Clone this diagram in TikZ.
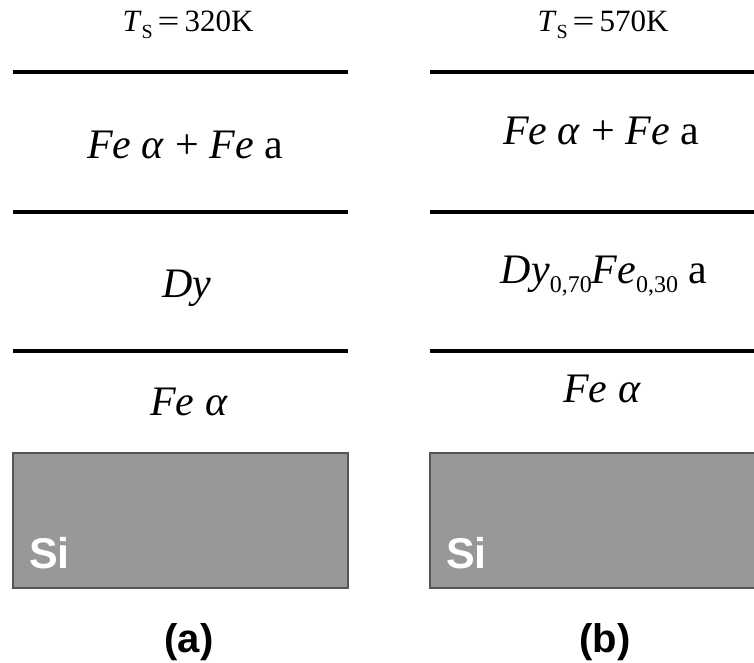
\documentclass[tikz,border=0pt]{standalone}
\usepackage{fontspec}
\setmainfont{Liberation Serif}
\newfontfamily\labelfont{Liberation Sans}
\usetikzlibrary{positioning}
\definecolor{sigray}{RGB}{152,152,152}
\definecolor{siedge}{RGB}{85,85,85}
\tikzset{
  layerline/.style={line width=4pt, black},
  sibox/.style={fill=sigray, draw=siedge, line width=1.3pt},
  phase/.style={inner sep=0pt, anchor=base, font=\fontsize{42}{48}\selectfont},
  temp/.style={inner sep=0pt, anchor=base, font=\fontsize{31}{36}\selectfont},
  silabel/.style={inner sep=0pt, anchor=base west, text=white, font=\labelfont\bfseries\fontsize{43}{48}\selectfont},
  panel/.style={inner sep=0pt, anchor=base, font=\labelfont\bfseries\fontsize{40}{46}\selectfont},
}
\newcommand{\Tsub}{\textit{T}\raisebox{-7pt}{\fontsize{20}{20}\selectfont S}\kern5pt}
\newcommand{\lowsub}[1]{\raisebox{-9pt}{\fontsize{24}{24}\selectfont #1}}

\begin{document}
\begin{tikzpicture}[x=1pt, y=-1pt]
\useasboundingbox (0,0) rectangle (754,663);

% ---- Left panel (a) ----
\node[temp] (tempa) at (188,32) {\Tsub\scalebox{1.25}[1]{=}\kern5pt320K};
\draw[layerline] (13,72) -- (348,72);
\node[phase] (topa) at (185,159) {\textit{Fe} \textit{α} + \textit{Fe} a};
\draw[layerline] (13,212) -- (348,212);
\node[phase] (mida) at (187,297) {\textit{Dy}};
\draw[layerline] (13,351) -- (348,351);
\node[phase] (bota) at (189,415) {\textit{Fe} \textit{α}};
\draw[sibox] (13,453) rectangle (348,588);
\node[silabel] (sia) at (29,568) {Si};
\node[panel] (laba) at (189,652) {(a)};

% ---- Right panel (b) ----
\node[temp] (tempb) at (603,32) {\Tsub\scalebox{1.25}[1]{=}\kern5pt570K};
\draw[layerline] (430,72) -- (765,72);
\node[phase] (topb) at (601,145) {\textit{Fe} \textit{α} + \textit{Fe} a};
\draw[layerline] (430,212) -- (765,212);
\node[phase] (midb) at (604,283) {\textit{Dy}\lowsub{0,70}\textit{Fe}\lowsub{0,30} a};
\draw[layerline] (430,351) -- (765,351);
\node[phase] (botb) at (602,402) {\textit{Fe} \textit{α}};
\draw[sibox] (430,453) rectangle (765,588);
\node[silabel] (sib) at (446,568) {Si};
\node[panel] (labb) at (605,652) {(b)};
\end{tikzpicture}
\end{document}
